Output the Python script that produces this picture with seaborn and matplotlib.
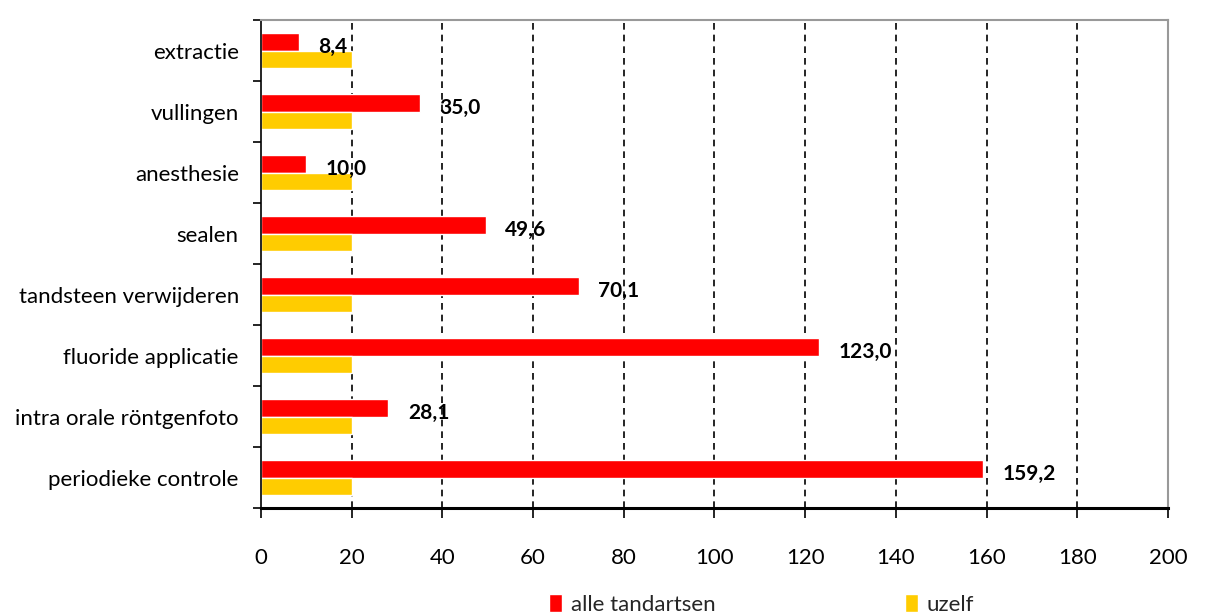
import pandas as pd
import matplotlib.pyplot as plt
import seaborn as sns

# data
categories = ["extractie", "vullingen", "anesthesie", "sealen",
              "tandsteen verwijderen", "fluoride applicatie",
              "intra orale röntgenfoto", "periodieke controle"]
alle_tandartsen = [8.4, 35.0, 10.0, 49.6, 70.1, 123.0, 28.1, 159.2]
uzelf = [20, 20, 20, 20, 20, 20, 20, 20]
series_names = ["alle tandartsen", "uzelf"]

df = pd.DataFrame({
    "categorie": categories * 2,
    "waarde": alle_tandartsen + uzelf,
    "reeks": [series_names[0]] * len(categories) + [series_names[1]] * len(categories),
})

sns.set_theme(style="white")
plt.rcParams['font.family'] = ['Lato', 'DejaVu Sans']

fig = plt.figure(figsize=(12.06, 6.16), dpi=100)
ax = fig.add_axes([0.2164, 0.1753, 0.7521, 0.7922])

sns.barplot(data=df, y="categorie", x="waarde", hue="reeks", orient="h",
            palette=["#FF0000", "#FFCC00"], width=0.56, ax=ax,
            saturation=1, legend=True)

ax.set_xlim(0, 200)
ax.set_ylim(len(categories) - 0.5, -0.5)
ax.set_xticks(range(0, 201, 20))
ax.set_xlabel("")
ax.set_ylabel("")

# dashed vertical grid
for xv in range(20, 200, 20):
    ax.axvline(xv, color="black", linestyle=(0, (4, 3)), linewidth=1.2, zorder=0)

# labels for the red bars
for i, v in enumerate(alle_tandartsen):
    ax.annotate(f"{v:.1f}".replace(".", ","), xy=(v, i - 0.06), xytext=(14, 0),
                textcoords="offset points", ha="left", va="center",
                fontsize=15, fontweight="bold", color="black")

# spines and ticks
for s in ["left", "bottom"]:
    ax.spines[s].set_color("black")
ax.spines["left"].set_linewidth(1.2)
ax.spines["bottom"].set_linewidth(2.2)
for s in ["top", "right"]:
    ax.spines[s].set_color("#999999")
    ax.spines[s].set_linewidth(1.5)

ax.set_yticks([i - 0.5 for i in range(len(categories) + 1)], minor=True)
ax.tick_params(axis="y", which="minor", left=True, length=6, width=1.2, color="black")
ax.tick_params(axis="y", which="major", left=False, labelsize=16, pad=10)
ax.tick_params(axis="x", bottom=True, length=7, width=1.2, color="black",
               labelsize=16, pad=22)
ax.set_yticklabels(categories, color="black")
for t in ax.get_xticklabels():
    t.set_color("black")

ax.legend(loc="center", bbox_to_anchor=(0.552, -0.197), ncol=2, frameon=False,
          fontsize=16, handlelength=0.6, handleheight=0.9, columnspacing=8.5,
          handletextpad=0.4)

fig.savefig("out.png", dpi=100)
